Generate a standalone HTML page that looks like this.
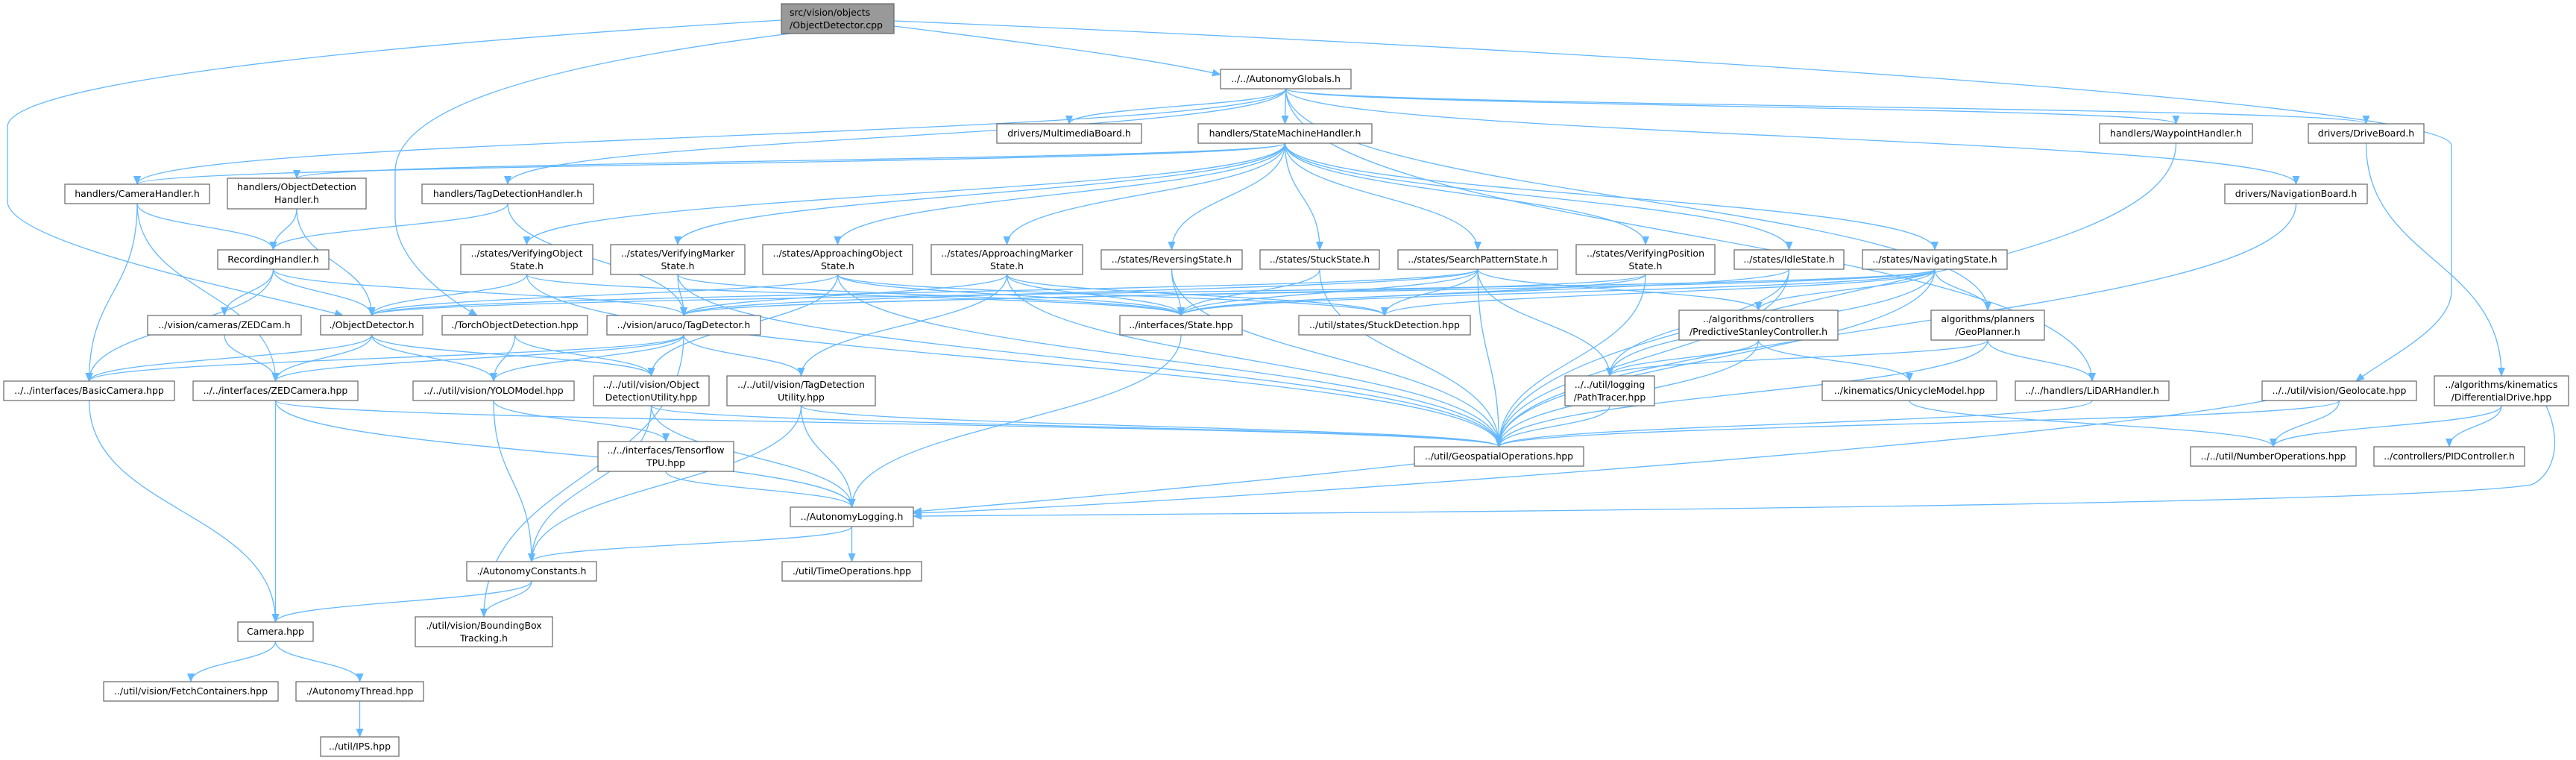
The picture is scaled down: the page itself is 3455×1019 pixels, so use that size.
<!DOCTYPE html>
<html><head><meta charset="utf-8"><style>
html,body{margin:0;padding:0;background:#fff;}
svg{display:block;}
text{font-family:"DejaVu Sans","Liberation Sans",sans-serif;font-size:12.5px;fill:#000;}
.n rect{fill:#fff;stroke:#666;stroke-width:1.2;}
.e{fill:none;stroke:#63b8ff;stroke-width:1.3;}
</style></head><body>
<svg id="g" width="3455" height="1019" viewBox="0 0 3455 1019" xmlns="http://www.w3.org/2000/svg">
<defs><marker id="a" markerWidth="12" markerHeight="10" refX="11" refY="5" orient="auto" markerUnits="userSpaceOnUse"><path d="M0,0 L12,5 L0,10 z" fill="#63b8ff"/></marker></defs>
<g id="edges"></g>
<g id="nodes">
<g class="n"><rect x="1048" y="5" width="151" height="40" style="fill:#999"/><text x="1059" y="21">src/vision/objects</text><text x="1059" y="38">/ObjectDetector.cpp</text></g>
<g class="n"><rect x="1637" y="93" width="175" height="26"/><text x="1724.5" y="110" text-anchor="middle">../../AutonomyGlobals.h</text></g>
<g class="n"><rect x="1337" y="166" width="194" height="26"/><text x="1434" y="183" text-anchor="middle">drivers/MultimediaBoard.h</text></g>
<g class="n"><rect x="1607" y="166" width="233" height="26"/><text x="1723.5" y="183" text-anchor="middle">handlers/StateMachineHandler.h</text></g>
<g class="n"><rect x="2816" y="166" width="205" height="26"/><text x="2918.5" y="183" text-anchor="middle">handlers/WaypointHandler.h</text></g>
<g class="n"><rect x="3096" y="166" width="155" height="26"/><text x="3173.5" y="183" text-anchor="middle">drivers/DriveBoard.h</text></g>
<g class="n"><rect x="87" y="247" width="194" height="26"/><text x="184" y="264" text-anchor="middle">handlers/CameraHandler.h</text></g>
<g class="n"><rect x="305" y="239" width="186" height="41"/><text x="398" y="255" text-anchor="middle">handlers/ObjectDetection</text><text x="398" y="272" text-anchor="middle">Handler.h</text></g>
<g class="n"><rect x="566" y="247" width="230" height="26"/><text x="681" y="264" text-anchor="middle">handlers/TagDetectionHandler.h</text></g>
<g class="n"><rect x="2984" y="247" width="191" height="26"/><text x="3079.5" y="264" text-anchor="middle">drivers/NavigationBoard.h</text></g>
<g class="n"><rect x="292" y="335" width="149" height="26"/><text x="366.5" y="352" text-anchor="middle">RecordingHandler.h</text></g>
<g class="n"><rect x="618" y="328" width="177" height="40"/><text x="706.5" y="344" text-anchor="middle">../states/VerifyingObject</text><text x="706.5" y="361" text-anchor="middle">State.h</text></g>
<g class="n"><rect x="819" y="328" width="180" height="40"/><text x="909" y="344" text-anchor="middle">../states/VerifyingMarker</text><text x="909" y="361" text-anchor="middle">State.h</text></g>
<g class="n"><rect x="1023" y="328" width="201" height="40"/><text x="1123.5" y="344" text-anchor="middle">../states/ApproachingObject</text><text x="1123.5" y="361" text-anchor="middle">State.h</text></g>
<g class="n"><rect x="1249" y="328" width="203" height="40"/><text x="1350.5" y="344" text-anchor="middle">../states/ApproachingMarker</text><text x="1350.5" y="361" text-anchor="middle">State.h</text></g>
<g class="n"><rect x="1477" y="335" width="189" height="26"/><text x="1571.5" y="352" text-anchor="middle">../states/ReversingState.h</text></g>
<g class="n"><rect x="1690" y="335" width="160" height="26"/><text x="1770" y="352" text-anchor="middle">../states/StuckState.h</text></g>
<g class="n"><rect x="1875" y="335" width="214" height="26"/><text x="1982" y="352" text-anchor="middle">../states/SearchPatternState.h</text></g>
<g class="n"><rect x="2114" y="328" width="186" height="40"/><text x="2207" y="344" text-anchor="middle">../states/VerifyingPosition</text><text x="2207" y="361" text-anchor="middle">State.h</text></g>
<g class="n"><rect x="2326" y="335" width="147" height="26"/><text x="2399.5" y="352" text-anchor="middle">../states/IdleState.h</text></g>
<g class="n"><rect x="2498" y="335" width="194" height="26"/><text x="2595" y="352" text-anchor="middle">../states/NavigatingState.h</text></g>
<g class="n"><rect x="198" y="423" width="206" height="26"/><text x="301" y="440" text-anchor="middle">../vision/cameras/ZEDCam.h</text></g>
<g class="n"><rect x="430" y="423" width="137" height="26"/><text x="498.5" y="440" text-anchor="middle">./ObjectDetector.h</text></g>
<g class="n"><rect x="593" y="423" width="195" height="26"/><text x="690.5" y="440" text-anchor="middle">./TorchObjectDetection.hpp</text></g>
<g class="n"><rect x="814" y="423" width="206" height="26"/><text x="917" y="440" text-anchor="middle">../vision/aruco/TagDetector.h</text></g>
<g class="n"><rect x="1502" y="423" width="164" height="26"/><text x="1584" y="440" text-anchor="middle">../interfaces/State.hpp</text></g>
<g class="n"><rect x="1742" y="423" width="230" height="26"/><text x="1857" y="440" text-anchor="middle">../util/states/StuckDetection.hpp</text></g>
<g class="n"><rect x="2252" y="416" width="213" height="40"/><text x="2358.5" y="432" text-anchor="middle">../algorithms/controllers</text><text x="2358.5" y="449" text-anchor="middle">/PredictiveStanleyController.h</text></g>
<g class="n"><rect x="2590" y="416" width="152" height="40"/><text x="2666" y="432" text-anchor="middle">algorithms/planners</text><text x="2666" y="449" text-anchor="middle">/GeoPlanner.h</text></g>
<g class="n"><rect x="5" y="511" width="229" height="26"/><text x="119.5" y="528" text-anchor="middle">../../interfaces/BasicCamera.hpp</text></g>
<g class="n"><rect x="259" y="511" width="221" height="26"/><text x="369.5" y="528" text-anchor="middle">../../interfaces/ZEDCamera.hpp</text></g>
<g class="n"><rect x="554" y="511" width="216" height="26"/><text x="662" y="528" text-anchor="middle">../../util/vision/YOLOModel.hpp</text></g>
<g class="n"><rect x="796" y="504" width="155" height="40"/><text x="873.5" y="520" text-anchor="middle">../../util/vision/Object</text><text x="873.5" y="537" text-anchor="middle">DetectionUtility.hpp</text></g>
<g class="n"><rect x="975" y="504" width="199" height="40"/><text x="1074.5" y="520" text-anchor="middle">../../util/vision/TagDetection</text><text x="1074.5" y="537" text-anchor="middle">Utility.hpp</text></g>
<g class="n"><rect x="2099" y="504" width="120" height="40"/><text x="2159" y="520" text-anchor="middle">../../util/logging</text><text x="2159" y="537" text-anchor="middle">/PathTracer.hpp</text></g>
<g class="n"><rect x="2444" y="511" width="234" height="26"/><text x="2561" y="528" text-anchor="middle">../kinematics/UnicycleModel.hpp</text></g>
<g class="n"><rect x="2703" y="511" width="206" height="26"/><text x="2806" y="528" text-anchor="middle">../../handlers/LiDARHandler.h</text></g>
<g class="n"><rect x="3034" y="511" width="207" height="26"/><text x="3137.5" y="528" text-anchor="middle">../../util/vision/Geolocate.hpp</text></g>
<g class="n"><rect x="3265" y="504" width="180" height="40"/><text x="3355" y="520" text-anchor="middle">../algorithms/kinematics</text><text x="3355" y="537" text-anchor="middle">/DifferentialDrive.hpp</text></g>
<g class="n"><rect x="1897" y="599" width="227" height="26"/><text x="2010.5" y="616" text-anchor="middle">../util/GeospatialOperations.hpp</text></g>
<g class="n"><rect x="2938" y="599" width="222" height="26"/><text x="3049" y="616" text-anchor="middle">../../util/NumberOperations.hpp</text></g>
<g class="n"><rect x="3184" y="599" width="202" height="26"/><text x="3285" y="616" text-anchor="middle">../controllers/PIDController.h</text></g>
<g class="n"><rect x="802" y="592" width="182" height="40"/><text x="893" y="608" text-anchor="middle">../../interfaces/Tensorflow</text><text x="893" y="625" text-anchor="middle">TPU.hpp</text></g>
<g class="n"><rect x="1060" y="680" width="165" height="26"/><text x="1142.5" y="697" text-anchor="middle">../AutonomyLogging.h</text></g>
<g class="n"><rect x="626" y="753" width="174" height="26"/><text x="713" y="770" text-anchor="middle">./AutonomyConstants.h</text></g>
<g class="n"><rect x="1049" y="753" width="187" height="26"/><text x="1142.5" y="770" text-anchor="middle">./util/TimeOperations.hpp</text></g>
<g class="n"><rect x="319" y="834" width="101" height="26"/><text x="369.5" y="851" text-anchor="middle">Camera.hpp</text></g>
<g class="n"><rect x="557" y="827" width="184" height="40"/><text x="649" y="843" text-anchor="middle">./util/vision/BoundingBox</text><text x="649" y="860" text-anchor="middle">Tracking.h</text></g>
<g class="n"><rect x="139" y="914" width="234" height="26"/><text x="256" y="931" text-anchor="middle">../util/vision/FetchContainers.hpp</text></g>
<g class="n"><rect x="397" y="914" width="171" height="26"/><text x="482.5" y="931" text-anchor="middle">./AutonomyThread.hpp</text></g>
<g class="n"><rect x="430" y="988" width="105" height="26"/><text x="482.5" y="1005" text-anchor="middle">../util/IPS.hpp</text></g>
</g>
</svg>
<script>
var N={root:[1048,5,151,40],AG:[1637,93,175,26],MMB:[1337,166,194,26],SMH:[1607,166,233,26],WPH:[2816,166,205,26],DB:[3096,166,155,26],
CH:[87,247,194,26],ODH:[305,239,186,41],TDH:[566,247,230,26],NB:[2984,247,191,26],RH:[292,335,149,26],VOS:[618,328,177,40],VMS:[819,328,180,40],
AOS:[1023,328,201,40],AMS:[1249,328,203,40],RS:[1477,335,189,26],SS:[1690,335,160,26],SPS:[1875,335,214,26],VPS:[2114,328,186,40],IS:[2326,335,147,26],
NS:[2498,335,194,26],ZC:[198,423,206,26],OD:[430,423,137,26],TOD:[593,423,195,26],TD:[814,423,206,26],ST:[1502,423,164,26],SD:[1742,423,230,26],
PSC:[2252,416,213,40],GP:[2590,416,152,40],BC:[5,511,229,26],ZCam:[259,511,221,26],YOLO:[554,511,216,26],ODU:[796,504,155,40],TDU:[975,504,199,40],
PT:[2099,504,120,40],UM:[2444,511,234,26],LH:[2703,511,206,26],GL:[3034,511,207,26],DD:[3265,504,180,40],GO:[1897,599,227,26],NO:[2938,599,222,26],
PID:[3184,599,202,26],TPU:[802,592,182,40],AL:[1060,680,165,26],AC:[626,753,174,26],TO:[1049,753,187,26],CAM:[319,834,101,26],BBT:[557,827,184,40],
FC:[139,914,234,26],AT:[397,914,171,26],IPS:[430,988,105,26]};
var E=[["root","AG"],
["AG","CH"],["AG","TDH"],["AG","MMB"],["AG","SMH"],["AG","WPH"],["AG","DB"],["AG","NB"],["AG","GP"],["AG","LH"],
["SMH","CH"],["SMH","ODH"],["SMH","VOS"],["SMH","VMS"],["SMH","AOS"],["SMH","AMS"],["SMH","RS"],["SMH","SS"],["SMH","SPS"],["SMH","VPS"],["SMH","IS"],["SMH","NS"],
["CH","RH"],["CH","BC"],["CH","ZCam"],["ODH","RH"],["ODH","OD"],["TDH","RH"],["TDH","TD"],
["RH","ZC"],["RH","OD"],["RH","TD"],["RH","BC"],
["VOS","OD"],["VOS","ST"],["VOS","GO"],["VMS","TD"],["VMS","ST"],["VMS","GO"],
["AOS","OD"],["AOS","ST"],["AOS","ODU"],["AOS","GO"],["AOS","SD"],
["AMS","TD"],["AMS","ST"],["AMS","TDU"],["AMS","GO"],["AMS","SD"],
["RS","ST"],["RS","GO"],["SS","ST"],["SS","GO"],
["SPS","OD"],["SPS","TD"],["SPS","ST"],["SPS","SD"],["SPS","PSC"],["SPS","PT"],["SPS","GO"],
["VPS","ST"],["VPS","GO"],["VPS","TD"],["IS","ST"],["IS","PT"],["IS","GO"],
["NS","OD"],["NS","TD"],["NS","ST"],["NS","SD"],["NS","PSC"],["NS","GP"],["NS","PT"],["NS","GO"],
["ZC","ZCam"],["OD","BC"],["OD","ZCam"],["OD","YOLO"],["OD","ODU"],["TOD","YOLO"],["TOD","ODU"],
["TD","BC"],["TD","ZCam"],["TD","YOLO"],["TD","TDU"],["TD","BBT"],
["ST","AL"],["PSC","PT"],["PSC","UM"],["PSC","GO"],["GP","PT"],["GP","LH"],["GP","GO"],["PT","GO"],
["BC","CAM"],["ZCam","CAM"],["ZCam","AL"],["ZCam","GO"],["YOLO","TPU"],["YOLO","AC"],
["ODU","AC"],["ODU","AL"],["ODU","GO"],["TDU","AC"],["TDU","AL"],["TDU","GO"],["TPU","AL"],
["UM","NO"],["LH","GO"],["GL","GO"],["GL","NO"],["DD","NO"],["DD","PID"],["DB","DD"],["WPH","GO"],["NB","GO"],
["GO","AL"],["AL","AC"],["AL","TO"],["AC","CAM"],["AC","BBT"],["CAM","FC"],["CAM","AT"],["AT","IPS"]];
var custom=[
"M1048,27 C500,60 10,110 10,170 L10,270 C10,330 380,400 460,423",
"M1060,45 C700,90 530,150 530,230 L530,290 C530,350 600,400 640,423",
"M1199,28 C2200,70 3288,140 3288,195 L3288,390 C3288,440 3200,480 3160,511",
"M3415,544 C3440,600 3420,640 3395,650 C3200,680 1500,690 1225,692",
"M3040,537 C2700,600 1500,680 1225,688"];
var g=document.getElementById("edges"),s="";
function c(n){return n[0]+n[2]/2;}
E.forEach(function(e){var a=N[e[0]],b=N[e[1]];
 var x1=c(a),y1=a[1]+a[3],x2=c(b),y2=b[1];
 if(e[0]=="GO"&&e[1]=="AL"){s+='<path class="e" marker-end="url(#a)" d="M1897,622 C1600,655 1300,680 1225,686"/>';return;}
 if(e[0]=="root"){s+='<path class="e" marker-end="url(#a)" d="M1199,35 C1400,60 1550,80 1637,100"/>';return;}
 var dy=(y2-y1)/2;
 s+='<path class="e" marker-end="url(#a)" d="M'+x1+','+y1+' C'+x1+','+(y1+dy)+' '+x2+','+(y2-dy)+' '+x2+','+y2+'"/>';});
custom.forEach(function(d){s+='<path class="e" marker-end="url(#a)" d="'+d+'"/>';});
g.innerHTML=s;
</script>
</body></html>
